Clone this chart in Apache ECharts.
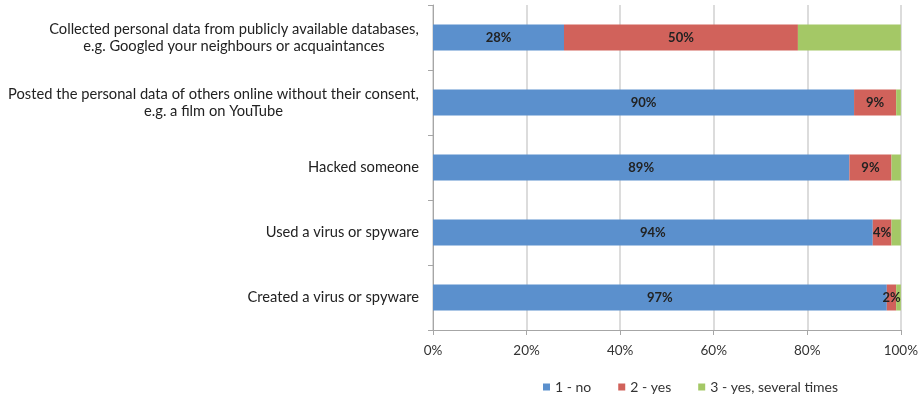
<!DOCTYPE html>
<html><head><meta charset="utf-8">
<script src="https://cdn.jsdelivr.net/npm/echarts@6/dist/echarts.min.js"></script>
<style>html,body{margin:0;padding:0;background:#fff}#c{width:921px;height:400px}</style>
</head><body><div id="c"></div>
<script>
const categories = [
  "Collected personal data from publicly available databases,\ne.g. Googled your neighbours or acquaintances",
  "Posted the personal data of others online without their consent,\ne.g. a film on YouTube",
  "Hacked someone",
  "Used a virus or spyware",
  "Created a virus or spyware"
];
const seriesNames = ["1 - no", "2 - yes", "3 - yes, several times"];
const no = [28, 90, 89, 94, 97];
const yes = [50, 9, 9, 4, 2];
const several = [22, 1, 2, 2, 1];
const xTicks = [0, 20, 40, 60, 80, 100];

const colors = ["#5b90cd", "#d1625b", "#a4c866"];
const font = "Lato, 'Open Sans', sans-serif";
const catFontSize = 14.7;
const ctx = document.createElement('canvas').getContext('2d');
ctx.font = catFontSize + "px Lato";
function blockWidth(v) {
  return Math.ceil(Math.max(...v.split('\n').map(l => ctx.measureText(l).width)));
}
function catLabel(v) {
  const lines = v.split('\n');
  if (lines.length === 1) return '{r|' + v + '}';
  const w = blockWidth(v);
  return lines.map(l => '{c' + w + '|' + l + '}').join('\n');
}
const rich = {r: {fontSize: catFontSize, fontFamily: font, color: '#222', lineHeight: 17}};
categories.forEach(v => {
  if (v.includes('\n')) {
    const w = blockWidth(v);
    rich['c' + w] = {width: w, align: 'center', fontSize: catFontSize, fontFamily: font, color: '#222', lineHeight: 17};
  }
});

const chart = echarts.init(document.getElementById('c'), null, {renderer: 'canvas'});
function mk(name, data, color, showLabel) {
  return {
    name, type: 'bar', stack: 'all', data, barWidth: 26,
    itemStyle: {color},
    label: {show: showLabel, position: 'inside', color: '#222', fontFamily: font, fontSize: 13, fontWeight: 'bold',
      formatter: p => (p.value >= 2 ? Math.round(p.value) + '%' : '')},
    emphasis: {disabled: true}
  };
}
chart.setOption({
  animation: false,
  textStyle: {fontFamily: font},
  grid: {left: 433, right: 19, top: 5, bottom: 70, containLabel: false},
  legend: {
    top: 375, left: 538, itemWidth: 7, itemHeight: 7, itemGap: 27,
    icon: 'rect', textStyle: {color: '#333', fontSize: 14, fontFamily: font},
    data: seriesNames
  },
  xAxis: {
    type: 'value', min: 0, max: 100, interval: 20,
    axisLine: {show: true, lineStyle: {color: '#a6a6a6', width: 1}},
    axisTick: {show: true, length: 5, lineStyle: {color: '#a6a6a6'}},
    splitLine: {show: true, lineStyle: {color: '#d0d0d0', width: 1.5}},
    axisLabel: {color: '#333', fontSize: 13.5, fontFamily: font, margin: 14,
      formatter: v => xTicks.includes(v) ? v + '%' : ''}
  },
  yAxis: {
    type: 'category', data: categories, inverse: true,
    axisLine: {show: true, lineStyle: {color: '#a6a6a6'}},
    axisTick: {show: true, length: 5, lineStyle: {color: '#a6a6a6'}},
    axisLabel: {color: '#222', fontSize: catFontSize, fontFamily: font, margin: 14, lineHeight: 17,
      formatter: catLabel, rich}
  },
  series: [
    mk(seriesNames[0], no, colors[0], true),
    mk(seriesNames[1], yes, colors[1], true),
    mk(seriesNames[2], several, colors[2], false)
  ]
});
</script></body></html>
